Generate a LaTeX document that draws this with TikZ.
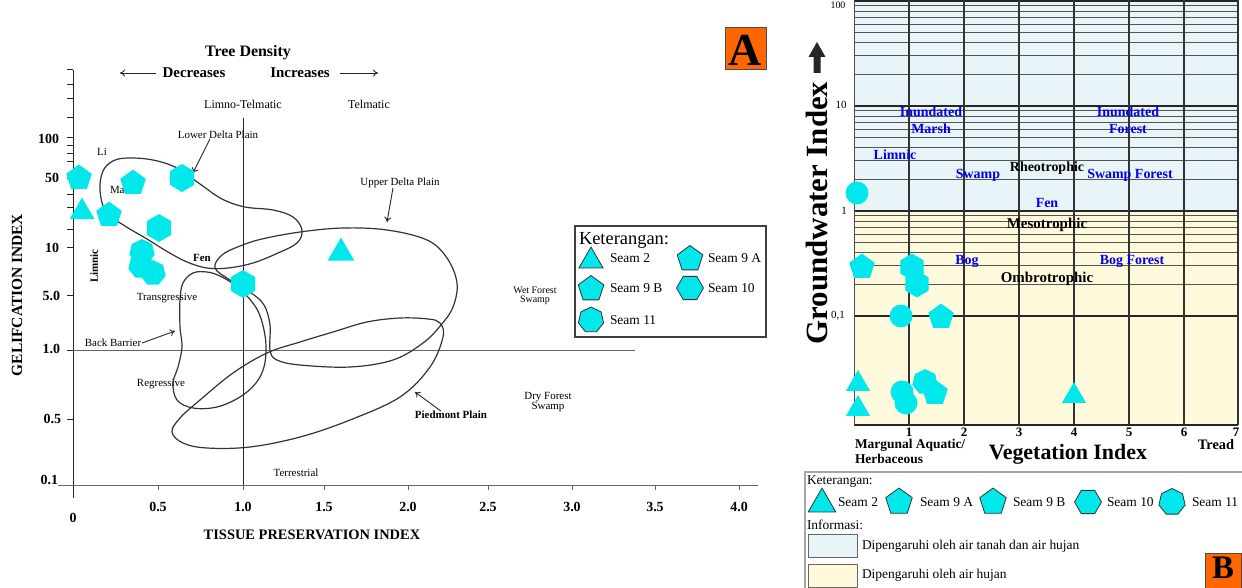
\documentclass[tikz,border=0pt]{standalone}
\usepackage{fontspec}
\setmainfont{Liberation Serif}
\usetikzlibrary{shapes.geometric,arrows.meta}
\definecolor{mcyan}{RGB}{0,232,236}
\definecolor{bblue}{RGB}{0,0,235}
\definecolor{lblue}{RGB}{232,244,248}
\definecolor{lyel}{RGB}{255,250,220}
\definecolor{orng}{RGB}{255,102,0}
\definecolor{gridc}{RGB}{85,85,85}
\newcommand{\myfs}[1]{\fontsize{#1}{#1}\selectfont}
\begin{document}
\begin{tikzpicture}[x=1bp,y=-1bp,
  every node/.style={inner sep=0pt,outer sep=0pt},
  tri/.style={regular polygon,regular polygon sides=3,fill=mcyan,minimum size=#1},tri/.default=28,
  pent/.style={regular polygon,regular polygon sides=5,fill=mcyan,minimum size=#1},pent/.default=27,
  hexa/.style={regular polygon,regular polygon sides=6,fill=mcyan,minimum size=#1},hexa/.default=28,
  hexp/.style={hexa=#1,shape border rotate=30},hexp/.default=28,
  hepta/.style={regular polygon,regular polygon sides=7,fill=mcyan,minimum size=#1},hepta/.default=26,
  dot/.style={circle,fill=mcyan,minimum size=#1},dot/.default=23,
  lgd/.style={draw=black!80,line width=0.8bp},
  curve/.style={draw=black!80,line width=1.2bp},
  axl/.style={draw=black!85,line width=1bp},
  thinl/.style={draw=black!60,line width=0.8bp},
  arr/.style={draw=black!85,line width=0.9bp,-{To[length=5bp,width=7bp]}},
  sm/.style={font=\myfs{11}},
  smb/.style={font=\bfseries\myfs{11}},
  num/.style={font=\bfseries\myfs{14}},
  blab/.style={font=\bfseries\myfs{14},text=bblue},
  klab/.style={font=\bfseries\myfs{14},text=black},
  gminor/.style={draw=gridc,line width=0.9bp},
  gmajor/.style={draw=black!85,line width=1.4bp},
  gvert/.style={draw=black!80,line width=1.8bp},
  leg/.style={font=\myfs{13.5},anchor=west}
]
\useasboundingbox (0,0) rectangle (1242,588);
\fill[white] (0,0) rectangle (1242,588);

% ================= PANEL A =================
% axes
\draw[axl] (73,70) -- (73,498);
\draw[thinl] (58,485) -- (758,485);
\draw[thinl] (73,350) -- (635,350);
\draw[axl] (243,118) -- (243,485);
\foreach \t in {70,85,99,118,138,146,154,162,179,195,208,230,248,296,350,419}
  \draw[axl] (67,\t) -- (73,\t);
\foreach \t in {158,243,324,408,488,572,655,739}
  \draw[thinl] (\t,485) -- (\t,490);

% y labels
\node[num,anchor=east] (y100) at (59,139) {100};
\node[num,anchor=east] (y50) at (59,178) {50};
\node[num,anchor=east] (y10) at (59,248) {10};
\node[num,anchor=east] (y5) at (60,296) {5.0};
\node[num,anchor=east] (y1) at (60,349) {1.0};
\node[num,anchor=east] (y05) at (61,419) {0.5};
\node[num,anchor=east] (y01) at (58,480) {0.1};
% x labels
\node[num] (x0) at (73,518) {0};
\node[num] (x05) at (158,507) {0.5};
\node[num] (x10) at (243,507) {1.0};
\node[num] (x15) at (324,507) {1.5};
\node[num] (x20) at (408,507) {2.0};
\node[num] (x25) at (488,507) {2.5};
\node[num] (x30) at (572,507) {3.0};
\node[num] (x35) at (655,507) {3.5};
\node[num] (x40) at (739,507) {4.0};
\node[font=\bfseries\myfs{14.5}] (tpi) at (312,535) {TISSUE PRESERVATION INDEX};
\node[font=\bfseries\myfs{15.5},rotate=90] (gi) at (17,295) {GELIFCATION INDEX};

% top labels
\node[font=\bfseries\myfs{16}] (td) at (248,53) {Tree Density};
\node[font=\bfseries\myfs{15}] (dec) at (194,73) {Decreases};
\node[font=\bfseries\myfs{15}] (inc) at (300,73) {Increases};
\coordinate (arrL) at (120,73);
\coordinate (arrR) at (378,73);
\draw[arr] ([xshift=-7bp]dec.west) -- (arrL);
\draw[arr] ([xshift=10bp]inc.east) -- (arrR);
\node[font=\myfs{12}] (limt) at (243,104) {Limno-Telmatic};
\node[font=\myfs{12}] (telm) at (369,104) {Telmatic};

% envelopes
\draw[curve] plot[smooth cycle,tension=0.6] coordinates {(106,212) (100,190) (103,171) (113,161) (128,158) (153,160) (177,168) (200,184) (222,199) (245,207) (273,210) (293,217) (302,230) (297,243) (278,253) (253,263) (228,268) (207,268) (187,262) (168,252) (147,239) (125,226)};
\draw[curve] plot[smooth cycle,tension=0.6] coordinates {(215,268) (222,255) (240,246) (262,239) (300,232) (343,228) (387,230) (427,240) (447,258) (457,283) (453,307) (441,325) (423,343) (393,360) (350,367) (300,365) (277,360) (270,350) (270,325) (264,305) (250,292) (230,280)};
\draw[curve] plot[smooth cycle,tension=0.6] coordinates {(180,300) (183,283) (193,273) (207,272) (220,276) (235,285) (247,296) (258,311) (264,330) (266,348) (264,367) (256,383) (240,397) (217,407) (193,408) (177,400) (173,383) (178,367) (182,347) (180,327)};
\draw[curve] plot[smooth cycle,tension=0.6] coordinates {(172,432) (183,443) (207,448) (250,447) (300,437) (350,420) (400,397) (430,367) (443,337) (440,323) (428,319) (400,318) (367,322) (333,332) (300,342) (267,353) (233,373) (200,400) (180,418)};

% region labels
\node[font=\myfs{11}] (ldp) at (218,135) {Lower Delta Plain};
\coordinate (ldpT) at (193,173);
\draw[arr] ([xshift=-8bp]ldp.south) -- (ldpT);
\node[font=\myfs{11}] (udp) at (400,183) {Upper Delta Plain};
\coordinate (udpT) at (387,222);
\draw[arr] ([xshift=-7bp]udp.south) -- (udpT);
\node[sm] (li) at (102,152) {Li};
\node[sm,anchor=west] (ma) at (110,190) {Ma};
\node[smb,rotate=90] (limn) at (94,266) {Limnic};
\node[smb] (fenA) at (202,258) {Fen};
\node[sm] (trans) at (167,298) {Transgressive};
\node[sm] (bb) at (113,343) {Back Barrier};
\coordinate (bbT) at (175,331);
\draw[arr] ([xshift=1bp]bb.east) -- (bbT);
\node[sm] (regr) at (161,384) {Regressive};
\node[font=\myfs{10},align=center] (wfs) at (535,296) {Wet Forest\\[-1bp]Swamp};
\node[font=\myfs{11},align=center] (dfs) at (548,402) {Dry Forest\\[-1bp]Swamp};
\node[smb] (pp) at (451,415) {Piedmont Plain};
\coordinate (ppT) at (415,392);
\draw[arr] ([xshift=-10bp]pp.north) -- (ppT);
\node[sm] (terr) at (296,473) {Terrestrial};

% data markers A
\node[pent] (a1) at (79,178) {};
\node[tri=29] (a2) at (82,212) {};
\node[pent] (a3) at (133,183) {};
\node[hexp] (a4) at (182,178) {};
\node[pent] (a5) at (109,215) {};
\node[hexp] (a6) at (159,228) {};
\node[hepta=26] (a7) at (142,252) {};
\node[hepta=26] (a8) at (141,266) {};
\node[hepta=26] (a9) at (153,273) {};
\node[hexp] (a10) at (243,284) {};
\node[tri=31] (a11) at (341,253) {};

% legend A
\draw[draw=black!75,line width=1.3bp,fill=white] (575,226) rectangle (766,337);
\node[font=\myfs{18.5},anchor=west] (ketA) at (579,240) {Keterangan:};
\node[tri,lgd] (la1) at (591,261) {};
\node[leg] (lt1) at (610,258) {Seam 2};
\node[pent,lgd] (la2) at (690,259) {};
\node[leg] (lt2) at (708,258) {Seam 9 A};
\node[pent,lgd] (la3) at (591,289) {};
\node[leg] (lt3) at (610,288) {Seam 9 B};
\node[hexa=27,lgd] (la4) at (690,288) {};
\node[leg] (lt4) at (708,288) {Seam 10};
\node[hepta,lgd] (la5) at (591,320) {};
\node[leg] (lt5) at (610,320) {Seam 11};

% A badge
\draw[fill=orng,draw=black!70,line width=1bp] (725,28) rectangle (766,70);
\node[font=\bfseries\myfs{46}] (bigA) at (745.5,50) {A};

% ================= PANEL B =================
\fill[lblue] (854,0) rectangle (1238,211);
\fill[lyel] (854,211) rectangle (1238,425);
\foreach \k in {-1,0,1}{\foreach \m in {2,...,9}{%
  \pgfmathsetmacro{\yy}{211-105*\k-105*ln(\m)/ln(10)}%
  \draw[gminor] (854,\yy) -- (1238,\yy);}}
\foreach \yy in {1,106,211,316} \draw[gmajor] (854,\yy) -- (1238,\yy);
\foreach \xx in {909,964,1019,1074,1129,1184} \draw[gvert] (\xx,0) -- (\xx,425);
\draw[gvert] (1238,0) -- (1238,425);
\draw[gmajor] (854,425) -- (1238,425);
\draw[draw=black!70,line width=0.8bp] (854,0) -- (854,425);

% B axis labels
\node[font=\myfs{10}] (b100) at (838,5) {100};
\node[font=\myfs{11}] (b10) at (841,105) {10};
\node[font=\myfs{11}] (b1) at (844,211) {1};
\node[font=\myfs{11}] (b01) at (838,316) {0,1};
\foreach \xx/\lab in {909/1,964/2,1019/3,1074/4,1129/5,1184/6,1236/7}
  \node[font=\bfseries\myfs{13}] (bx\lab) at (\xx,432) {\lab};
\node[font=\bfseries\myfs{13.5},anchor=west] (marg) at (855,445) {Margunal Aquatic/};
\node[font=\bfseries\myfs{13.5},anchor=west] (herb) at (855,459) {Herbaceous};
\node[font=\bfseries\myfs{22}] (vi) at (1068,454) {Vegetation Index};
\node[font=\bfseries\myfs{14.5}] (tread) at (1216,445) {Tread};
\node[font=\bfseries\myfs{31},rotate=90] (gwi) at (817,213) {Groundwater Index};
\fill[black!85] (813.5,73) -- (813.5,57) -- (808.5,57) -- (817,42) -- (825.5,57) -- (820.5,57) -- (820.5,73) -- cycle;

% B region labels
\node[blab] (inu1) at (931,112) {Inundated};
\node[blab] (mar) at (931,129) {Marsh};
\node[blab] (inu2) at (1128,112) {Inundated};
\node[blab] (for) at (1128,129) {Forest};
\node[blab] (limB) at (895,155) {Limnic};
\node[blab] (swa) at (978,175) {Swamp};
\node[klab] (rheo) at (1047,168) {Rheotrophic};
\node[blab] (swf) at (1130,175) {Swamp Forest};
\node[blab] (fenB) at (1047,203) {Fen};
\node[klab,font=\bfseries\myfs{15}] (meso) at (1047,225) {Mesotrophic};
\node[blab] (bog) at (967,261) {Bog};
\node[blab] (bogf) at (1132,261) {Bog Forest};
\node[klab,font=\bfseries\myfs{15}] (ombro) at (1047,279) {Ombrotrophic};

% B markers
\node[dot=23] (b1m) at (857,193) {};
\node[pent] (b2m) at (862,267) {};
\node[hexp=27] (b3m) at (912,267) {};
\node[hexp=27] (b4m) at (917,284) {};
\node[dot=23] (b5m) at (901,316) {};
\node[pent] (b6m) at (941,317) {};
\node[tri] (b7m) at (858,384) {};
\node[tri] (b8m) at (858,409) {};
\node[dot=23] (b9m) at (902,392) {};
\node[dot=23] (b10m) at (906,403) {};
\node[hepta] (b11m) at (925,382) {};
\node[pent] (b12m) at (935,393) {};
\node[tri] (b13m) at (1074,396) {};

% legend B
\draw[draw=black!35,line width=1.2bp] (805,600) -- (805,472) -- (1250,472);
\node[font=\myfs{13.5},anchor=west] (ketB) at (807,482) {Keterangan:};
\node[tri=32,lgd] (lb1) at (822,504) {};
\node[leg] (lbt1) at (838,502) {Seam 2};
\node[pent=28,lgd] (lb2) at (899,502) {};
\node[leg] (lbt2) at (920,502) {Seam 9 A};
\node[pent=28,lgd] (lb3) at (993,502) {};
\node[leg] (lbt3) at (1013,502) {Seam 9 B};
\node[hexa=27,lgd] (lb4) at (1088,502) {};
\node[leg] (lbt4) at (1107,502) {Seam 10};
\node[hepta=27,lgd] (lb5) at (1172,502) {};
\node[leg] (lbt5) at (1192,502) {Seam 11};
\node[font=\myfs{13.5},anchor=west] (info) at (807,525) {Informasi:};
\draw[fill=lblue,draw=black!60,line width=0.9bp] (808,534) rectangle (857,557);
\node[leg] (d1) at (862,546) {Dipengaruhi oleh air tanah dan air hujan};
\draw[fill=lyel,draw=black!60,line width=0.9bp] (808,564) rectangle (857,587);
\node[leg] (d2) at (862,575) {Dipengaruhi oleh air hujan};
\draw[fill=orng,draw=black!70,line width=1bp] (1205,553) rectangle (1241,592);
\node[font=\bfseries\myfs{33}] (bigB) at (1223,568) {B};
\end{tikzpicture}
\end{document}
